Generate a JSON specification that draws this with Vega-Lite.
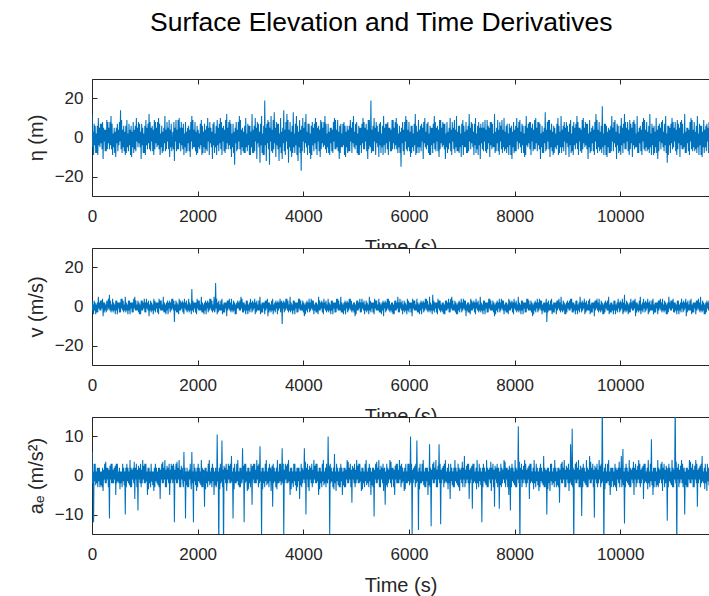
{
"$schema": "https://vega.github.io/schema/vega-lite/v6.json",
"autosize": {"type": "none"},
"padding": {"left": 92, "top": 79, "right": 617, "bottom": 517},
"title": {"text": "Surface Elevation and Time Derivatives", "anchor": "start", "frame": "group", "dx": 58, "fontSize": 26.5, "fontWeight": "normal", "color": "#000000", "font": "Liberation Sans", "offset": 42},
"spacing": 52,
"bounds": "flush",
"data": {"values": [
{"t":0,"h":12,"v":3,"a":6},{"t":30,"h":-9,"v":-4,"a":-12},{"t":60,"h":6,"v":2,"a":3},{"t":90,"h":-8,"v":-3,"a":-2},{"t":120,"h":10,"v":5,"a":2},{"t":150,"h":-5,"v":-2,"a":-3},{"t":180,"h":7,"v":3,"a":1},{"t":210,"h":-11,"v":-5,"a":-4},{"t":240,"h":4,"v":2,"a":3},{"t":270,"h":-7,"v":-3,"a":-2},
{"t":300,"h":8,"v":-2,"a":2},{"t":330,"h":-6,"v":6,"a":-11},{"t":360,"h":11,"v":-3,"a":3},{"t":390,"h":-9,"v":4,"a":-2},{"t":420,"h":5,"v":-2,"a":2},{"t":450,"h":-10,"v":3,"a":-5},{"t":480,"h":7,"v":-4,"a":3},{"t":510,"h":-4,"v":2,"a":-2},{"t":540,"h":14,"v":-3,"a":1},{"t":570,"h":-8,"v":4,"a":-3},
{"t":600,"h":6,"v":-3,"a":2},{"t":630,"h":-9,"v":5,"a":-10},{"t":660,"h":9,"v":-2,"a":3},{"t":690,"h":-7,"v":3,"a":-2},{"t":720,"h":4,"v":-4,"a":4},{"t":750,"h":-10,"v":2,"a":-3},{"t":780,"h":8,"v":-3,"a":2},{"t":810,"h":-6,"v":5,"a":-6},{"t":840,"h":10,"v":-2,"a":3},{"t":870,"h":-5,"v":3,"a":-9},
{"t":900,"h":7,"v":-4,"a":2},{"t":930,"h":-11,"v":3,"a":-3},{"t":960,"h":5,"v":-2,"a":4},{"t":990,"h":-8,"v":4,"a":-2},{"t":1020,"h":9,"v":-3,"a":3},{"t":1050,"h":-6,"v":2,"a":-5},{"t":1080,"h":12,"v":-5,"a":2},{"t":1110,"h":-7,"v":3,"a":-3},{"t":1140,"h":6,"v":-2,"a":1},{"t":1170,"h":-9,"v":4,"a":-4},
{"t":1200,"h":8,"v":-3,"a":3},{"t":1230,"h":-5,"v":2,"a":-2},{"t":1260,"h":10,"v":-4,"a":2},{"t":1290,"h":-9,"v":3,"a":-6},{"t":1320,"h":6,"v":-2,"a":3},{"t":1350,"h":-7,"v":5,"a":-2},{"t":1380,"h":11,"v":-3,"a":4},{"t":1410,"h":-6,"v":2,"a":-3},{"t":1440,"h":5,"v":-4,"a":2},{"t":1470,"h":-10,"v":3,"a":-5},
{"t":1500,"h":7,"v":-2,"a":3},{"t":1530,"h":3,"v":4,"a":-2},{"t":1560,"h":-12,"v":-8,"a":-12},{"t":1590,"h":9,"v":3,"a":3},{"t":1620,"h":-6,"v":-3,"a":-2},{"t":1650,"h":10,"v":4,"a":4},{"t":1680,"h":-7,"v":-2,"a":-3},{"t":1710,"h":5,"v":3,"a":2},{"t":1740,"h":-9,"v":-4,"a":6},{"t":1770,"h":8,"v":2,"a":-11},
{"t":1800,"h":-7,"v":-3,"a":2},{"t":1830,"h":6,"v":4,"a":-3},{"t":1860,"h":-10,"v":-2,"a":3},{"t":1890,"h":11,"v":9,"a":6},{"t":1920,"h":-5,"v":-3,"a":-12},{"t":1950,"h":8,"v":2,"a":2},{"t":1980,"h":-9,"v":-4,"a":-4},{"t":2010,"h":4,"v":3,"a":3},{"t":2040,"h":-6,"v":-2,"a":-2},{"t":2070,"h":9,"v":5,"a":4},
{"t":2100,"h":-8,"v":-3,"a":-3},{"t":2130,"h":7,"v":2,"a":-8},{"t":2160,"h":-6,"v":-4,"a":2},{"t":2190,"h":10,"v":3,"a":-3},{"t":2220,"h":-9,"v":-2,"a":4},{"t":2250,"h":5,"v":4,"a":-2},{"t":2280,"h":-11,"v":-3,"a":3},{"t":2310,"h":8,"v":5,"a":-5},{"t":2340,"h":-5,"v":12,"a":2},{"t":2370,"h":9,"v":-4,"a":10.5},
{"t":2400,"h":-7,"v":3,"a":-20},{"t":2430,"h":10,"v":-2,"a":3},{"t":2460,"h":-9,"v":4,"a":9},{"t":2490,"h":6,"v":-3,"a":-20},{"t":2520,"h":-8,"v":2,"a":2},{"t":2550,"h":12,"v":-5,"a":-4},{"t":2580,"h":-6,"v":3,"a":3},{"t":2610,"h":9,"v":-2,"a":-2},{"t":2640,"h":-10,"v":4,"a":5},{"t":2670,"h":7,"v":-3,"a":-11},
{"t":2700,"h":-14,"v":2,"a":3},{"t":2730,"h":8,"v":-4,"a":-2},{"t":2760,"h":-6,"v":3,"a":4},{"t":2790,"h":11,"v":-2,"a":-3},{"t":2820,"h":-9,"v":5,"a":2},{"t":2850,"h":5,"v":-3,"a":7},{"t":2880,"h":-8,"v":2,"a":-12},{"t":2910,"h":10,"v":-4,"a":3},{"t":2940,"h":-7,"v":3,"a":-4},{"t":2970,"h":6,"v":-2,"a":2},
{"t":3000,"h":-9,"v":4,"a":-3},{"t":3030,"h":12,"v":-3,"a":-7.5},{"t":3060,"h":-8,"v":2,"a":3},{"t":3090,"h":10,"v":-4,"a":-2},{"t":3120,"h":-11,"v":3,"a":4},{"t":3150,"h":7,"v":-2,"a":-3},{"t":3180,"h":-13,"v":5,"a":7.5},{"t":3210,"h":11,"v":-3,"a":-16},{"t":3240,"h":-9,"v":2,"a":2},{"t":3270,"h":19,"v":-4,"a":-3},
{"t":3300,"h":-12,"v":3,"a":4},{"t":3330,"h":9,"v":-5,"a":-2},{"t":3360,"h":-14,"v":2,"a":3},{"t":3390,"h":11,"v":-3,"a":-4},{"t":3420,"h":-8,"v":4,"a":-8},{"t":3450,"h":13,"v":-2,"a":2},{"t":3480,"h":-10,"v":3,"a":-3},{"t":3510,"h":7,"v":-4,"a":4},{"t":3540,"h":-12,"v":2,"a":-2},{"t":3570,"h":10,"v":-3,"a":3},
{"t":3600,"h":-11,"v":-9,"a":7},{"t":3630,"h":14,"v":3,"a":-16},{"t":3660,"h":-9,"v":-2,"a":3},{"t":3690,"h":12,"v":4,"a":-2},{"t":3720,"h":-13,"v":-3,"a":4},{"t":3750,"h":8,"v":5,"a":-5},{"t":3780,"h":-10,"v":-2,"a":2},{"t":3810,"h":13,"v":3,"a":-3},{"t":3840,"h":-8,"v":-4,"a":3},{"t":3870,"h":11,"v":2,"a":-4},
{"t":3900,"h":-12,"v":-3,"a":2},{"t":3930,"h":9,"v":4,"a":-6},{"t":3960,"h":-17,"v":-2,"a":3},{"t":3990,"h":10,"v":3,"a":-2},{"t":4020,"h":-8,"v":-5,"a":7},{"t":4050,"h":12,"v":2,"a":-10},{"t":4080,"h":-9,"v":-3,"a":3},{"t":4110,"h":7,"v":4,"a":-4},{"t":4140,"h":-11,"v":-2,"a":2},{"t":4170,"h":8,"v":3,"a":-3},
{"t":4200,"h":-7,"v":-4,"a":4},{"t":4230,"h":10,"v":2,"a":-2},{"t":4260,"h":-9,"v":-3,"a":3},{"t":4290,"h":6,"v":5,"a":-5},{"t":4320,"h":-10,"v":-2,"a":2},{"t":4350,"h":8,"v":3,"a":-3},{"t":4380,"h":-5,"v":-4,"a":4},{"t":4410,"h":11,"v":2,"a":-2},{"t":4440,"h":-8,"v":-3,"a":3},{"t":4470,"h":7,"v":4,"a":10},
{"t":4500,"h":-9,"v":-2,"a":-16},{"t":4530,"h":5,"v":3,"a":2},{"t":4560,"h":-8,"v":-4,"a":-3},{"t":4590,"h":10,"v":2,"a":5.5},{"t":4620,"h":-6,"v":-3,"a":-4},{"t":4650,"h":9,"v":4,"a":2},{"t":4680,"h":-11,"v":-2,"a":-3},{"t":4710,"h":7,"v":5,"a":3},{"t":4740,"h":-5,"v":-3,"a":-5},{"t":4770,"h":8,"v":2,"a":2},
{"t":4800,"h":-10,"v":-4,"a":-3},{"t":4830,"h":6,"v":3,"a":4},{"t":4860,"h":-7,"v":-2,"a":-2},{"t":4890,"h":9,"v":4,"a":3},{"t":4920,"h":-8,"v":-3,"a":-7},{"t":4950,"h":11,"v":2,"a":2},{"t":4980,"h":-6,"v":-5,"a":-3},{"t":5010,"h":8,"v":3,"a":4},{"t":5040,"h":-9,"v":-2,"a":-2},{"t":5070,"h":5,"v":4,"a":3},
{"t":5100,"h":-8,"v":-3,"a":-4},{"t":5130,"h":10,"v":2,"a":2},{"t":5160,"h":-6,"v":-4,"a":-3},{"t":5190,"h":7,"v":3,"a":4},{"t":5220,"h":-11,"v":-2,"a":-2},{"t":5250,"h":9,"v":5,"a":3},{"t":5280,"h":19,"v":-3,"a":-5},{"t":5310,"h":-7,"v":2,"a":2},{"t":5340,"h":10,"v":-4,"a":-10.5},{"t":5370,"h":-9,"v":3,"a":3},
{"t":5400,"h":6,"v":-2,"a":-2},{"t":5430,"h":-10,"v":4,"a":4},{"t":5460,"h":8,"v":-3,"a":-3},{"t":5490,"h":-5,"v":2,"a":2},{"t":5520,"h":11,"v":-5,"a":-4},{"t":5550,"h":-8,"v":3,"a":-7.5},{"t":5580,"h":7,"v":-2,"a":3},{"t":5610,"h":-9,"v":4,"a":-2},{"t":5640,"h":5,"v":-3,"a":4},{"t":5670,"h":-7,"v":2,"a":-3},
{"t":5700,"h":9,"v":-4,"a":2},{"t":5730,"h":-6,"v":3,"a":-5},{"t":5760,"h":10,"v":-2,"a":3},{"t":5790,"h":-8,"v":5,"a":-2},{"t":5820,"h":6,"v":-3,"a":4},{"t":5850,"h":-15,"v":2,"a":-3},{"t":5880,"h":8,"v":-4,"a":2},{"t":5910,"h":-9,"v":3,"a":-4},{"t":5940,"h":11,"v":-2,"a":3},{"t":5970,"h":-7,"v":4,"a":-2},
{"t":6000,"h":8,"v":-3,"a":3},{"t":6030,"h":-10,"v":2,"a":10},{"t":6060,"h":6,"v":-5,"a":-16},{"t":6090,"h":-7,"v":3,"a":2},{"t":6120,"h":12,"v":-2,"a":-3},{"t":6150,"h":-8,"v":4,"a":9},{"t":6180,"h":9,"v":-3,"a":-14},{"t":6210,"h":-5,"v":2,"a":3},{"t":6240,"h":7,"v":-4,"a":-2},{"t":6270,"h":-11,"v":3,"a":4},
{"t":6300,"h":10,"v":-2,"a":-3},{"t":6330,"h":-6,"v":4,"a":2},{"t":6360,"h":8,"v":-3,"a":-5},{"t":6390,"h":-9,"v":5,"a":8},{"t":6420,"h":5,"v":-2,"a":-13},{"t":6450,"h":-8,"v":6,"a":3},{"t":6480,"h":11,"v":-3,"a":-2},{"t":6510,"h":-7,"v":2,"a":4},{"t":6540,"h":6,"v":-4,"a":-3},{"t":6570,"h":-10,"v":3,"a":8},
{"t":6600,"h":9,"v":-3,"a":-12.5},{"t":6630,"h":-5,"v":2,"a":2},{"t":6660,"h":7,"v":-4,"a":-3},{"t":6690,"h":-11,"v":3,"a":4},{"t":6720,"h":8,"v":-2,"a":-2},{"t":6750,"h":-6,"v":4,"a":3},{"t":6780,"h":10,"v":-3,"a":-6},{"t":6810,"h":-9,"v":5,"a":2},{"t":6840,"h":5,"v":-2,"a":-3},{"t":6870,"h":-8,"v":3,"a":4},
{"t":6900,"h":11,"v":-4,"a":-2},{"t":6930,"h":-7,"v":2,"a":3},{"t":6960,"h":6,"v":-3,"a":-4},{"t":6990,"h":-10,"v":4,"a":2},{"t":7020,"h":9,"v":-2,"a":-3},{"t":7050,"h":-5,"v":3,"a":5},{"t":7080,"h":8,"v":-5,"a":-2},{"t":7110,"h":-8,"v":2,"a":3},{"t":7140,"h":12,"v":-3,"a":-6},{"t":7170,"h":-6,"v":4,"a":2},
{"t":7200,"h":7,"v":-2,"a":-8.5},{"t":7230,"h":-9,"v":3,"a":3},{"t":7260,"h":10,"v":-4,"a":-2},{"t":7290,"h":-6,"v":2,"a":4},{"t":7320,"h":8,"v":-3,"a":-3},{"t":7350,"h":-11,"v":5,"a":2},{"t":7380,"h":5,"v":-2,"a":-12},{"t":7410,"h":-7,"v":3,"a":3},{"t":7440,"h":9,"v":-4,"a":-2},{"t":7470,"h":-8,"v":2,"a":4},
{"t":7500,"h":6,"v":-3,"a":-3},{"t":7530,"h":-10,"v":4,"a":2},{"t":7560,"h":8,"v":-2,"a":-4},{"t":7590,"h":-5,"v":3,"a":3},{"t":7620,"h":12,"v":-5,"a":-8},{"t":7650,"h":-7,"v":2,"a":2},{"t":7680,"h":9,"v":-3,"a":-3},{"t":7710,"h":-9,"v":4,"a":-8.5},{"t":7740,"h":6,"v":-2,"a":3},{"t":7770,"h":-8,"v":3,"a":-2},
{"t":7800,"h":10,"v":-4,"a":4},{"t":7830,"h":-6,"v":2,"a":-3},{"t":7860,"h":7,"v":-3,"a":2},{"t":7890,"h":-9,"v":4,"a":-5},{"t":7920,"h":5,"v":-2,"a":-9},{"t":7950,"h":-11,"v":3,"a":3},{"t":7980,"h":8,"v":-4,"a":-2},{"t":8010,"h":-7,"v":2,"a":4},{"t":8040,"h":10,"v":-3,"a":-3},{"t":8070,"h":-6,"v":5,"a":12.6},
{"t":8100,"h":9,"v":-2,"a":-20},{"t":8130,"h":-8,"v":3,"a":3},{"t":8160,"h":6,"v":-4,"a":-2},{"t":8190,"h":-10,"v":2,"a":4},{"t":8220,"h":11,"v":-3,"a":-3},{"t":8250,"h":-5,"v":4,"a":2},{"t":8280,"h":8,"v":-2,"a":-6},{"t":8310,"h":-9,"v":3,"a":3},{"t":8340,"h":7,"v":-5,"a":-2},{"t":8370,"h":-6,"v":2,"a":4},
{"t":8400,"h":10,"v":-3,"a":-3},{"t":8430,"h":-7,"v":4,"a":2},{"t":8460,"h":8,"v":-2,"a":-4},{"t":8490,"h":-11,"v":3,"a":3},{"t":8520,"h":6,"v":-4,"a":-2},{"t":8550,"h":-8,"v":2,"a":5},{"t":8580,"h":13,"v":-3,"a":-3},{"t":8610,"h":-6,"v":-8,"a":-10},{"t":8640,"h":9,"v":3,"a":2},{"t":8670,"h":-10,"v":-2,"a":-4},
{"t":8700,"h":7,"v":4,"a":3},{"t":8730,"h":-9,"v":-3,"a":-2},{"t":8760,"h":5,"v":2,"a":4},{"t":8790,"h":-6,"v":-4,"a":-3},{"t":8820,"h":10,"v":3,"a":2},{"t":8850,"h":-8,"v":-2,"a":-7},{"t":8880,"h":11,"v":5,"a":3},{"t":8910,"h":-5,"v":-3,"a":-2},{"t":8940,"h":8,"v":2,"a":4},{"t":8970,"h":-9,"v":-4,"a":-3},
{"t":9000,"h":6,"v":3,"a":2},{"t":9030,"h":-10,"v":-2,"a":-4},{"t":9060,"h":9,"v":4,"a":8},{"t":9090,"h":-7,"v":-3,"a":12},{"t":9120,"h":8,"v":2,"a":-20},{"t":9150,"h":-6,"v":-4,"a":3},{"t":9180,"h":11,"v":3,"a":-2},{"t":9210,"h":-9,"v":-2,"a":4},{"t":9240,"h":5,"v":5,"a":-3},{"t":9270,"h":-8,"v":-3,"a":-10.4},
{"t":9300,"h":10,"v":2,"a":3},{"t":9330,"h":-5,"v":-4,"a":-2},{"t":9360,"h":7,"v":3,"a":4},{"t":9390,"h":-11,"v":-2,"a":-3},{"t":9420,"h":9,"v":4,"a":5},{"t":9450,"h":-7,"v":-3,"a":-2},{"t":9480,"h":6,"v":2,"a":3},{"t":9510,"h":-9,"v":-5,"a":-10.8},{"t":9540,"h":12,"v":3,"a":2},{"t":9570,"h":-8,"v":-2,"a":-3},
{"t":9600,"h":8,"v":4,"a":4},{"t":9630,"h":-6,"v":-3,"a":-3},{"t":9660,"h":16,"v":2,"a":20},{"t":9690,"h":-9,"v":-4,"a":-20},{"t":9720,"h":7,"v":3,"a":3},{"t":9750,"h":-10,"v":-2,"a":-2},{"t":9780,"h":5,"v":5,"a":4},{"t":9810,"h":-8,"v":-3,"a":-5},{"t":9840,"h":11,"v":2,"a":2},{"t":9870,"h":-7,"v":-4,"a":-3},
{"t":9900,"h":9,"v":3,"a":3},{"t":9930,"h":-11,"v":-2,"a":-4},{"t":9960,"h":6,"v":4,"a":2},{"t":9990,"h":-7,"v":-3,"a":-3},{"t":10020,"h":10,"v":2,"a":5},{"t":10050,"h":-8,"v":-4,"a":6.8},{"t":10080,"h":12,"v":6,"a":-12.3},{"t":10110,"h":-6,"v":-3,"a":3},{"t":10140,"h":8,"v":2,"a":-2},{"t":10170,"h":-9,"v":-3,"a":4},
{"t":10200,"h":7,"v":4,"a":-3},{"t":10230,"h":-10,"v":-2,"a":2},{"t":10260,"h":9,"v":3,"a":-5},{"t":10290,"h":-5,"v":-5,"a":3},{"t":10320,"h":11,"v":2,"a":-2},{"t":10350,"h":-8,"v":-3,"a":4},{"t":10380,"h":6,"v":5,"a":-3},{"t":10410,"h":-9,"v":-2,"a":2},{"t":10440,"h":10,"v":4,"a":-6},{"t":10470,"h":-7,"v":-3,"a":3},
{"t":10500,"h":8,"v":2,"a":-2},{"t":10530,"h":-6,"v":-4,"a":4},{"t":10560,"h":12,"v":3,"a":-3},{"t":10590,"h":-9,"v":-2,"a":9.3},{"t":10620,"h":5,"v":4,"a":-5},{"t":10650,"h":-8,"v":-3,"a":2},{"t":10680,"h":10,"v":2,"a":-3},{"t":10710,"h":-11,"v":-4,"a":4},{"t":10740,"h":7,"v":3,"a":-2},{"t":10770,"h":-6,"v":-2,"a":3},
{"t":10800,"h":9,"v":4,"a":-4},{"t":10830,"h":-7,"v":-3,"a":3},{"t":10860,"h":11,"v":2,"a":-2},{"t":10890,"h":-13,"v":-4,"a":-11.6},{"t":10920,"h":6,"v":5,"a":3},{"t":10950,"h":-8,"v":-2,"a":-2},{"t":10980,"h":10,"v":3,"a":4},{"t":11010,"h":-5,"v":-3,"a":-3},{"t":11040,"h":8,"v":2,"a":20},{"t":11070,"h":-9,"v":-4,"a":-20},
{"t":11100,"h":7,"v":3,"a":3},{"t":11130,"h":-10,"v":-2,"a":-2},{"t":11160,"h":9,"v":4,"a":4},{"t":11190,"h":-6,"v":-3,"a":-3},{"t":11220,"h":12,"v":2,"a":-10},{"t":11250,"h":-8,"v":-5,"a":2},{"t":11280,"h":5,"v":3,"a":-3},{"t":11310,"h":-9,"v":-2,"a":4},{"t":11340,"h":10,"v":4,"a":-2},{"t":11370,"h":-7,"v":-3,"a":3},
{"t":11400,"h":8,"v":2,"a":-3},{"t":11430,"h":-6,"v":-4,"a":4},{"t":11460,"h":11,"v":3,"a":-8},{"t":11490,"h":-9,"v":-2,"a":2},{"t":11520,"h":6,"v":5,"a":-3},{"t":11550,"h":-10,"v":-3,"a":5},{"t":11580,"h":9,"v":2,"a":-2},{"t":11610,"h":-5,"v":-4,"a":3},{"t":11640,"h":7,"v":3,"a":-4},{"t":11670,"h":-8,"v":-2,"a":2},
{"t":11700,"h":10,"v":4,"a":-3},{"t":11730,"h":-7,"v":-3,"a":2},
{"t":10,"h":-5,"v":-2,"a":-2},{"t":20,"h":3,"v":1,"a":1},{"t":40,"h":7,"v":3,"a":3},{"t":50,"h":-4,"v":-2,"a":-1.5},{"t":70,"h":-8,"v":-4,"a":-2.5},{"t":80,"h":2,"v":1,"a":1},{"t":100,"h":6,"v":2,"a":2},{"t":110,"h":-9,"v":-3,"a":-3},{"t":130,"h":-4,"v":-1,"a":-1.5},{"t":140,"h":5,"v":2,"a":2},
{"t":160,"h":7,"v":3,"a":1},{"t":170,"h":-3,"v":-2,"a":-2.5},{"t":190,"h":-6,"v":-1,"a":-3},{"t":200,"h":8,"v":4,"a":2},{"t":220,"h":5,"v":2,"a":1.5},{"t":230,"h":-2,"v":-3,"a":-1},{"t":250,"h":-7,"v":-2,"a":-2},{"t":260,"h":4,"v":1,"a":3.5},{"t":280,"h":9,"v":3,"a":2},{"t":290,"h":-6,"v":2,"a":-1},
{"t":310,"h":-3,"v":4,"a":-3},{"t":320,"h":5,"v":-1,"a":1.5},{"t":340,"h":8,"v":-2,"a":2.5},{"t":350,"h":-4,"v":3,"a":-1},{"t":370,"h":-6,"v":1,"a":-2},{"t":380,"h":7,"v":-2,"a":3},{"t":400,"h":2,"v":-3,"a":1.5},{"t":410,"h":-5,"v":2,"a":-2},{"t":430,"h":-8,"v":1,"a":-1},{"t":440,"h":3,"v":-4,"a":2.5},
{"t":460,"h":5,"v":-2,"a":3},{"t":470,"h":-3,"v":3,"a":-2},{"t":490,"h":-7,"v":2,"a":-1.5},{"t":500,"h":4,"v":-1,"a":1},{"t":520,"h":8,"v":-3,"a":2},{"t":530,"h":-2,"v":2,"a":-3.5},{"t":550,"h":-6,"v":4,"a":-2},{"t":560,"h":9,"v":-1,"a":1},{"t":580,"h":4,"v":-2,"a":3},{"t":590,"h":-5,"v":3,"a":-1.5},
{"t":610,"h":-7,"v":1,"a":-2.5},{"t":620,"h":3,"v":-2,"a":1},{"t":640,"h":6,"v":-3,"a":2},{"t":650,"h":-8,"v":2,"a":-3},{"t":670,"h":-5,"v":1,"a":-1.5},{"t":680,"h":2,"v":-4,"a":2},{"t":700,"h":7,"v":-2,"a":1},{"t":710,"h":-4,"v":3,"a":-2.5},{"t":730,"h":-9,"v":2,"a":-3},{"t":740,"h":6,"v":-1,"a":2},
{"t":760,"h":3,"v":-3,"a":1.5},{"t":770,"h":-5,"v":2,"a":-1},{"t":790,"h":-8,"v":4,"a":-2},{"t":800,"h":4,"v":-1,"a":3.5},{"t":820,"h":6,"v":-2,"a":2},{"t":830,"h":-7,"v":3,"a":-1},{"t":850,"h":-2,"v":1,"a":-3},{"t":860,"h":5,"v":-2,"a":1.5},{"t":880,"h":8,"v":-3,"a":2.5},{"t":890,"h":-3,"v":2,"a":-1},
{"t":910,"h":-5,"v":1,"a":-2},{"t":920,"h":3,"v":-4,"a":3},{"t":940,"h":7,"v":-2,"a":1.5},{"t":950,"h":-4,"v":3,"a":-2},{"t":970,"h":-8,"v":2,"a":-1},{"t":980,"h":2,"v":-1,"a":2.5},{"t":1000,"h":6,"v":-3,"a":3},{"t":1010,"h":-9,"v":2,"a":-2},{"t":1030,"h":-4,"v":4,"a":-1.5},{"t":1040,"h":5,"v":-1,"a":1},
{"t":1060,"h":7,"v":-2,"a":2},{"t":1070,"h":-3,"v":3,"a":-3.5},{"t":1090,"h":-6,"v":1,"a":-2},{"t":1100,"h":8,"v":-2,"a":1},{"t":1120,"h":5,"v":-3,"a":3},{"t":1130,"h":-2,"v":2,"a":-1.5},{"t":1150,"h":-7,"v":1,"a":-2.5},{"t":1160,"h":4,"v":-4,"a":1},{"t":1180,"h":9,"v":-2,"a":2},{"t":1190,"h":-6,"v":3,"a":-3},
{"t":1210,"h":-3,"v":2,"a":-1.5},{"t":1220,"h":5,"v":-1,"a":2},{"t":1240,"h":8,"v":-3,"a":1},{"t":1250,"h":-4,"v":2,"a":-2.5},{"t":1270,"h":-6,"v":4,"a":-3},{"t":1280,"h":7,"v":-1,"a":2},{"t":1300,"h":2,"v":-2,"a":1.5},{"t":1310,"h":-5,"v":3,"a":-1},{"t":1330,"h":-8,"v":1,"a":-2},{"t":1340,"h":3,"v":-2,"a":3.5},
{"t":1360,"h":5,"v":-3,"a":2},{"t":1370,"h":-3,"v":2,"a":-1},{"t":1390,"h":-7,"v":1,"a":-3},{"t":1400,"h":4,"v":-4,"a":1.5},{"t":1420,"h":8,"v":-2,"a":2.5},{"t":1430,"h":-2,"v":3,"a":-1},{"t":1450,"h":-6,"v":2,"a":-2},{"t":1460,"h":9,"v":-1,"a":3},{"t":1480,"h":4,"v":-3,"a":1.5},{"t":1490,"h":-5,"v":2,"a":-2},
{"t":1510,"h":-7,"v":4,"a":-1},{"t":1520,"h":-3,"v":-1,"a":2.5},{"t":1540,"h":-6,"v":-2,"a":3},{"t":1550,"h":8,"v":3,"a":2},{"t":1570,"h":5,"v":1,"a":1.5},{"t":1580,"h":-2,"v":-2,"a":-1},{"t":1600,"h":-7,"v":-3,"a":-2},{"t":1610,"h":4,"v":2,"a":3.5},{"t":1630,"h":9,"v":1,"a":2},{"t":1640,"h":-6,"v":-4,"a":-1},
{"t":1660,"h":-3,"v":-2,"a":-3},{"t":1670,"h":5,"v":3,"a":1.5},{"t":1690,"h":8,"v":2,"a":2.5},{"t":1700,"h":-4,"v":-1,"a":-1},{"t":1720,"h":-6,"v":-3,"a":-2},{"t":1730,"h":7,"v":2,"a":-3},{"t":1750,"h":2,"v":4,"a":-1.5},{"t":1760,"h":-5,"v":-1,"a":2},{"t":1780,"h":-8,"v":-2,"a":1},{"t":1790,"h":3,"v":3,"a":-2.5},
{"t":1810,"h":5,"v":1,"a":-3},{"t":1820,"h":-3,"v":-2,"a":1},{"t":1840,"h":-7,"v":-3,"a":1.5},{"t":1850,"h":4,"v":2,"a":-1},{"t":1870,"h":8,"v":1,"a":-2},{"t":1880,"h":-2,"v":-4,"a":-3.5},{"t":1900,"h":-6,"v":-2,"a":-2},{"t":1910,"h":9,"v":3,"a":1},{"t":1930,"h":4,"v":2,"a":3},{"t":1940,"h":-5,"v":-1,"a":-1.5},
{"t":1960,"h":-7,"v":-3,"a":-2.5},{"t":1970,"h":3,"v":2,"a":1},{"t":1990,"h":6,"v":4,"a":2},{"t":2000,"h":-8,"v":-1,"a":-3},{"t":2020,"h":-5,"v":-2,"a":-1.5},{"t":2030,"h":2,"v":3,"a":2},{"t":2050,"h":7,"v":1,"a":1},{"t":2060,"h":-4,"v":-2,"a":-2.5},{"t":2080,"h":-9,"v":-3,"a":-3},{"t":2090,"h":6,"v":2,"a":2},
{"t":2110,"h":3,"v":1,"a":1.5},{"t":2120,"h":-5,"v":-4,"a":1},{"t":2140,"h":-8,"v":-2,"a":2},{"t":2150,"h":4,"v":3,"a":-3.5},{"t":2170,"h":6,"v":2,"a":-2},{"t":2180,"h":-7,"v":-1,"a":1},{"t":2200,"h":-2,"v":-3,"a":3},{"t":2210,"h":5,"v":2,"a":-1.5},{"t":2230,"h":8,"v":4,"a":-2.5},{"t":2240,"h":-3,"v":-1,"a":1},
{"t":2260,"h":-5,"v":-2,"a":2},{"t":2270,"h":3,"v":3,"a":-3},{"t":2290,"h":7,"v":1,"a":-1.5},{"t":2300,"h":-4,"v":-2,"a":2},{"t":2320,"h":-8,"v":-3,"a":1},{"t":2330,"h":2,"v":-2,"a":-2.5},{"t":2350,"h":6,"v":-1,"a":-3},{"t":2360,"h":-9,"v":4,"a":-2},{"t":2380,"h":-4,"v":2,"a":-1.5},{"t":2390,"h":5,"v":-3,"a":1},
{"t":2410,"h":7,"v":-2,"a":2},{"t":2420,"h":-3,"v":1,"a":-3.5},{"t":2440,"h":-6,"v":3,"a":-2},{"t":2450,"h":8,"v":-2,"a":-1},{"t":2470,"h":5,"v":-4,"a":-3},{"t":2480,"h":-2,"v":1,"a":1.5},{"t":2500,"h":-7,"v":2,"a":2.5},{"t":2510,"h":4,"v":-3,"a":-1},{"t":2530,"h":9,"v":-1,"a":-2},{"t":2540,"h":-6,"v":2,"a":3},
{"t":2560,"h":-3,"v":3,"a":1.5},{"t":2570,"h":5,"v":-2,"a":-2},{"t":2590,"h":8,"v":-1,"a":-1},{"t":2600,"h":-4,"v":4,"a":2.5},{"t":2620,"h":-6,"v":2,"a":3},{"t":2630,"h":7,"v":-3,"a":-2},{"t":2650,"h":2,"v":-2,"a":-1.5},{"t":2660,"h":-5,"v":1,"a":1},{"t":2680,"h":-8,"v":3,"a":2},{"t":2690,"h":3,"v":-2,"a":-3.5},
{"t":2710,"h":5,"v":-4,"a":-2},{"t":2720,"h":-3,"v":1,"a":1},{"t":2740,"h":-7,"v":2,"a":3},{"t":2750,"h":4,"v":-1,"a":-1.5},{"t":2770,"h":8,"v":-1,"a":-2.5},{"t":2780,"h":-2,"v":2,"a":1},{"t":2800,"h":-6,"v":3,"a":2},{"t":2810,"h":9,"v":-2,"a":-3},{"t":2830,"h":4,"v":-1,"a":-1.5},{"t":2840,"h":-5,"v":4,"a":-2},
{"t":2860,"h":-7,"v":2,"a":-1},{"t":2870,"h":3,"v":-3,"a":2.5},{"t":2890,"h":6,"v":-2,"a":3},{"t":2900,"h":-8,"v":1,"a":-2},{"t":2920,"h":-5,"v":3,"a":-1.5},{"t":2930,"h":2,"v":-2,"a":1},{"t":2950,"h":7,"v":-4,"a":2},{"t":2960,"h":-4,"v":1,"a":-3.5},{"t":2980,"h":-9,"v":2,"a":-2},{"t":2990,"h":6,"v":-3,"a":1},
{"t":3010,"h":3,"v":-1,"a":3},{"t":3020,"h":-5,"v":2,"a":1.5},{"t":3040,"h":-8,"v":3,"a":2.5},{"t":3050,"h":4,"v":-2,"a":-1},{"t":3070,"h":6,"v":-1,"a":-2},{"t":3080,"h":-7,"v":4,"a":3},{"t":3100,"h":-2,"v":2,"a":1.5},{"t":3110,"h":5,"v":-3,"a":-2},{"t":3130,"h":8,"v":-2,"a":-1},{"t":3140,"h":-3,"v":1,"a":2.5},
{"t":3160,"h":-5,"v":3,"a":3},{"t":3170,"h":3,"v":-2,"a":-2},{"t":3190,"h":7,"v":-4,"a":-1.5},{"t":3200,"h":-4,"v":1,"a":1},{"t":3220,"h":-8,"v":2,"a":2},{"t":3230,"h":2,"v":-3,"a":-3.5},{"t":3250,"h":6,"v":-1,"a":-2},{"t":3260,"h":-9,"v":2,"a":1},{"t":3280,"h":-4,"v":3,"a":3},{"t":3290,"h":5,"v":-2,"a":-1.5},
{"t":3310,"h":7,"v":-1,"a":-2.5},{"t":3320,"h":-3,"v":4,"a":1},{"t":3340,"h":-6,"v":2,"a":2},{"t":3350,"h":8,"v":-3,"a":-3},{"t":3370,"h":5,"v":-2,"a":-1.5},{"t":3380,"h":-2,"v":1,"a":2},{"t":3400,"h":-7,"v":3,"a":1},{"t":3410,"h":4,"v":-2,"a":2.5},{"t":3430,"h":9,"v":-4,"a":3},{"t":3440,"h":-6,"v":1,"a":-2},
{"t":3460,"h":-3,"v":2,"a":-1.5},{"t":3470,"h":5,"v":-3,"a":1},{"t":3490,"h":8,"v":-1,"a":2},{"t":3500,"h":-4,"v":2,"a":-3.5},{"t":3520,"h":-6,"v":3,"a":-2},{"t":3530,"h":7,"v":-2,"a":1},{"t":3550,"h":2,"v":-1,"a":3},{"t":3560,"h":-5,"v":4,"a":-1.5},{"t":3580,"h":-8,"v":2,"a":-2.5},{"t":3590,"h":3,"v":3,"a":-1},
{"t":3610,"h":5,"v":2,"a":-2},{"t":3620,"h":-3,"v":-1,"a":3},{"t":3640,"h":-7,"v":-3,"a":1.5},{"t":3650,"h":4,"v":2,"a":-2},{"t":3670,"h":8,"v":4,"a":-1},{"t":3680,"h":-2,"v":-1,"a":2.5},{"t":3700,"h":-6,"v":-2,"a":3},{"t":3710,"h":9,"v":3,"a":-2},{"t":3730,"h":4,"v":1,"a":-1.5},{"t":3740,"h":-5,"v":-2,"a":1},
{"t":3760,"h":-7,"v":-3,"a":2},{"t":3770,"h":3,"v":2,"a":-3.5},{"t":3790,"h":6,"v":1,"a":-2},{"t":3800,"h":-8,"v":-4,"a":1},{"t":3820,"h":-5,"v":-2,"a":3},{"t":3830,"h":2,"v":3,"a":-1.5},{"t":3850,"h":7,"v":2,"a":-2.5},{"t":3860,"h":-4,"v":-1,"a":1},{"t":3880,"h":-9,"v":-3,"a":2},{"t":3890,"h":6,"v":2,"a":-3},
{"t":3910,"h":3,"v":4,"a":-1.5},{"t":3920,"h":-5,"v":-1,"a":2},{"t":3940,"h":-8,"v":-2,"a":1},{"t":3950,"h":4,"v":3,"a":-2.5},{"t":3970,"h":6,"v":1,"a":-3},{"t":3980,"h":-7,"v":-2,"a":2},{"t":4000,"h":-2,"v":-3,"a":1.5},{"t":4010,"h":5,"v":2,"a":-1},{"t":4030,"h":8,"v":1,"a":-2},{"t":4040,"h":-3,"v":-4,"a":3.5},
{"t":4060,"h":-5,"v":-2,"a":2},{"t":4070,"h":3,"v":3,"a":-1},{"t":4090,"h":7,"v":2,"a":-3},{"t":4100,"h":-4,"v":-1,"a":1.5},{"t":4120,"h":-8,"v":-3,"a":2.5},{"t":4130,"h":2,"v":2,"a":-1},{"t":4150,"h":6,"v":4,"a":-2},{"t":4160,"h":-9,"v":-1,"a":3},{"t":4180,"h":-4,"v":-2,"a":1.5},{"t":4190,"h":5,"v":3,"a":-2},
{"t":4210,"h":7,"v":1,"a":-1},{"t":4220,"h":-3,"v":-2,"a":2.5},{"t":4240,"h":-6,"v":-3,"a":3},{"t":4250,"h":8,"v":2,"a":-2},{"t":4270,"h":5,"v":1,"a":-1.5},{"t":4280,"h":-2,"v":-4,"a":1},{"t":4300,"h":-7,"v":-2,"a":2},{"t":4310,"h":4,"v":3,"a":-3.5},{"t":4330,"h":9,"v":2,"a":-2},{"t":4340,"h":-6,"v":-1,"a":1},
{"t":4360,"h":-3,"v":-3,"a":3},{"t":4370,"h":5,"v":2,"a":-1.5},{"t":4390,"h":8,"v":4,"a":-2.5},{"t":4400,"h":-4,"v":-1,"a":1},{"t":4420,"h":-6,"v":-2,"a":2},{"t":4430,"h":7,"v":3,"a":-3},{"t":4450,"h":2,"v":1,"a":-1.5},{"t":4460,"h":-5,"v":-2,"a":-2},{"t":4480,"h":-8,"v":-3,"a":-1},{"t":4490,"h":3,"v":2,"a":2.5},
{"t":4510,"h":5,"v":1,"a":3},{"t":4520,"h":-3,"v":-4,"a":-2},{"t":4540,"h":-7,"v":-2,"a":-1.5},{"t":4550,"h":4,"v":3,"a":1},{"t":4570,"h":8,"v":2,"a":2},{"t":4580,"h":-2,"v":-1,"a":-3.5},{"t":4600,"h":-6,"v":-3,"a":-2},{"t":4610,"h":9,"v":2,"a":1},{"t":4630,"h":4,"v":4,"a":3},{"t":4640,"h":-5,"v":-1,"a":-1.5},
{"t":4660,"h":-7,"v":-2,"a":-2.5},{"t":4670,"h":3,"v":3,"a":1},{"t":4690,"h":6,"v":1,"a":2},{"t":4700,"h":-8,"v":-2,"a":-3},{"t":4720,"h":-5,"v":-3,"a":-1.5},{"t":4730,"h":2,"v":2,"a":2},{"t":4750,"h":7,"v":1,"a":1},{"t":4760,"h":-4,"v":-4,"a":-2.5},{"t":4780,"h":-9,"v":-2,"a":-3},{"t":4790,"h":6,"v":3,"a":2},
{"t":4810,"h":3,"v":2,"a":1.5},{"t":4820,"h":-5,"v":-1,"a":-1},{"t":4840,"h":-8,"v":-3,"a":-2},{"t":4850,"h":4,"v":2,"a":3.5},{"t":4870,"h":6,"v":4,"a":2},{"t":4880,"h":-7,"v":-1,"a":-1},{"t":4900,"h":-2,"v":-2,"a":-3},{"t":4910,"h":5,"v":3,"a":1.5},{"t":4930,"h":8,"v":1,"a":2.5},{"t":4940,"h":-3,"v":-2,"a":-1},
{"t":4960,"h":-5,"v":-3,"a":-2},{"t":4970,"h":3,"v":2,"a":3},{"t":4990,"h":7,"v":1,"a":1.5},{"t":5000,"h":-4,"v":-4,"a":-2},{"t":5020,"h":-8,"v":-2,"a":-1},{"t":5030,"h":2,"v":3,"a":2.5},{"t":5050,"h":6,"v":2,"a":3},{"t":5060,"h":-9,"v":-1,"a":-2},{"t":5080,"h":-4,"v":-3,"a":-1.5},{"t":5090,"h":5,"v":2,"a":1},
{"t":5110,"h":7,"v":4,"a":2},{"t":5120,"h":-3,"v":-1,"a":-3.5},{"t":5140,"h":-6,"v":-2,"a":-2},{"t":5150,"h":8,"v":3,"a":1},{"t":5170,"h":5,"v":1,"a":3},{"t":5180,"h":-2,"v":-2,"a":-1.5},{"t":5200,"h":-7,"v":-3,"a":-2.5},{"t":5210,"h":4,"v":2,"a":1},{"t":5230,"h":9,"v":1,"a":2},{"t":5240,"h":-6,"v":-4,"a":-3},
{"t":5260,"h":-3,"v":-2,"a":-1.5},{"t":5270,"h":-5,"v":3,"a":2},{"t":5290,"h":-8,"v":2,"a":1},{"t":5300,"h":4,"v":-1,"a":-2.5},{"t":5320,"h":6,"v":-3,"a":-3},{"t":5330,"h":-7,"v":2,"a":2},{"t":5350,"h":-2,"v":4,"a":1.5},{"t":5360,"h":5,"v":-1,"a":-1},{"t":5380,"h":8,"v":-2,"a":-2},{"t":5390,"h":-3,"v":3,"a":3.5},
{"t":5410,"h":-5,"v":1,"a":2},{"t":5420,"h":3,"v":-2,"a":-1},{"t":5440,"h":7,"v":-3,"a":-3},{"t":5450,"h":-4,"v":2,"a":1.5},{"t":5470,"h":-8,"v":1,"a":2.5},{"t":5480,"h":2,"v":-4,"a":-1},{"t":5500,"h":6,"v":-2,"a":-2},{"t":5510,"h":-9,"v":3,"a":3},{"t":5530,"h":-4,"v":2,"a":1.5},{"t":5540,"h":5,"v":-1,"a":2},
{"t":5560,"h":7,"v":-3,"a":1},{"t":5570,"h":-3,"v":2,"a":-2.5},{"t":5590,"h":-6,"v":4,"a":-3},{"t":5600,"h":8,"v":-1,"a":2},{"t":5620,"h":5,"v":-2,"a":1.5},{"t":5630,"h":-2,"v":3,"a":-1},{"t":5650,"h":-7,"v":1,"a":-2},{"t":5660,"h":4,"v":-2,"a":3.5},{"t":5680,"h":9,"v":-3,"a":2},{"t":5690,"h":-6,"v":2,"a":-1},
{"t":5710,"h":-3,"v":1,"a":-3},{"t":5720,"h":5,"v":-4,"a":1.5},{"t":5740,"h":8,"v":-2,"a":2.5},{"t":5750,"h":-4,"v":3,"a":-1},{"t":5770,"h":-6,"v":2,"a":-2},{"t":5780,"h":7,"v":-1,"a":3},{"t":5800,"h":2,"v":-3,"a":1.5},{"t":5810,"h":-5,"v":2,"a":-2},{"t":5830,"h":-8,"v":4,"a":-1},{"t":5840,"h":3,"v":-1,"a":2.5},
{"t":5860,"h":5,"v":-2,"a":3},{"t":5870,"h":-3,"v":3,"a":-2},{"t":5890,"h":-7,"v":1,"a":-1.5},{"t":5900,"h":4,"v":-2,"a":1},{"t":5920,"h":8,"v":-3,"a":2},{"t":5930,"h":-2,"v":2,"a":-3.5},{"t":5950,"h":-6,"v":1,"a":-2},{"t":5960,"h":9,"v":-4,"a":1},{"t":5980,"h":4,"v":-2,"a":3},{"t":5990,"h":-5,"v":3,"a":-1.5},
{"t":6010,"h":-7,"v":2,"a":-2.5},{"t":6020,"h":3,"v":-1,"a":-1},{"t":6040,"h":6,"v":-3,"a":-2},{"t":6050,"h":-8,"v":2,"a":3},{"t":6070,"h":-5,"v":4,"a":1.5},{"t":6080,"h":2,"v":-1,"a":-2},{"t":6100,"h":7,"v":-2,"a":-1},{"t":6110,"h":-4,"v":3,"a":2.5},{"t":6130,"h":-9,"v":1,"a":3},{"t":6140,"h":6,"v":-2,"a":-2},
{"t":6160,"h":3,"v":-3,"a":-1.5},{"t":6170,"h":-5,"v":2,"a":1},{"t":6190,"h":-8,"v":1,"a":2},{"t":6200,"h":4,"v":-4,"a":-3.5},{"t":6220,"h":6,"v":-2,"a":-2},{"t":6230,"h":-7,"v":3,"a":1},{"t":6250,"h":-2,"v":2,"a":3},{"t":6260,"h":5,"v":-1,"a":-1.5},{"t":6280,"h":8,"v":-3,"a":-2.5},{"t":6290,"h":-3,"v":2,"a":1},
{"t":6310,"h":-5,"v":4,"a":2},{"t":6320,"h":3,"v":-1,"a":-3},{"t":6340,"h":7,"v":-2,"a":-1.5},{"t":6350,"h":-4,"v":3,"a":2},{"t":6370,"h":-8,"v":1,"a":1},{"t":6380,"h":2,"v":-2,"a":-2.5},{"t":6400,"h":6,"v":-3,"a":-3},{"t":6410,"h":-9,"v":2,"a":2},{"t":6430,"h":-4,"v":1,"a":1.5},{"t":6440,"h":5,"v":-4,"a":-1},
{"t":6460,"h":7,"v":-2,"a":-2},{"t":6470,"h":-3,"v":3,"a":3.5},{"t":6490,"h":-6,"v":2,"a":2},{"t":6500,"h":8,"v":-1,"a":-1},{"t":6520,"h":5,"v":-3,"a":-3},{"t":6530,"h":-2,"v":2,"a":1.5},{"t":6550,"h":-7,"v":4,"a":2.5},{"t":6560,"h":4,"v":-1,"a":-1},{"t":6580,"h":9,"v":-2,"a":-2},{"t":6590,"h":-6,"v":3,"a":3},
{"t":6610,"h":-3,"v":1,"a":1.5},{"t":6620,"h":5,"v":-2,"a":-2},{"t":6640,"h":8,"v":-3,"a":-1},{"t":6650,"h":-4,"v":2,"a":2.5},{"t":6670,"h":-6,"v":1,"a":3},{"t":6680,"h":7,"v":-4,"a":-2},{"t":6700,"h":2,"v":-2,"a":-1.5},{"t":6710,"h":-5,"v":3,"a":1},{"t":6730,"h":-8,"v":2,"a":2},{"t":6740,"h":3,"v":-1,"a":-3.5},
{"t":6760,"h":5,"v":-3,"a":-2},{"t":6770,"h":-3,"v":2,"a":1},{"t":6790,"h":-7,"v":4,"a":3},{"t":6800,"h":4,"v":-1,"a":-1.5},{"t":6820,"h":8,"v":-2,"a":-2.5},{"t":6830,"h":-2,"v":3,"a":1},{"t":6850,"h":-6,"v":1,"a":2},{"t":6860,"h":9,"v":-2,"a":-3},{"t":6880,"h":4,"v":-3,"a":-1.5},{"t":6890,"h":-5,"v":2,"a":2},
{"t":6910,"h":-7,"v":1,"a":1},{"t":6920,"h":3,"v":-4,"a":-2.5},{"t":6940,"h":6,"v":-2,"a":-3},{"t":6950,"h":-8,"v":3,"a":2},{"t":6970,"h":-5,"v":2,"a":1.5},{"t":6980,"h":2,"v":-1,"a":-1},{"t":7000,"h":7,"v":-3,"a":-2},{"t":7010,"h":-4,"v":2,"a":3.5},{"t":7030,"h":-9,"v":4,"a":2},{"t":7040,"h":6,"v":-1,"a":-1},
{"t":7060,"h":3,"v":-2,"a":-3},{"t":7070,"h":-5,"v":3,"a":1.5},{"t":7090,"h":-8,"v":1,"a":2.5},{"t":7100,"h":4,"v":-2,"a":-1},{"t":7120,"h":6,"v":-3,"a":-2},{"t":7130,"h":-7,"v":2,"a":3},{"t":7150,"h":-2,"v":1,"a":1.5},{"t":7160,"h":5,"v":-4,"a":-2},{"t":7180,"h":8,"v":-2,"a":-1},{"t":7190,"h":-3,"v":3,"a":2.5},
{"t":7210,"h":-5,"v":2,"a":3},{"t":7220,"h":3,"v":-1,"a":-2},{"t":7240,"h":7,"v":-3,"a":-1.5},{"t":7250,"h":-4,"v":2,"a":1},{"t":7270,"h":-8,"v":4,"a":2},{"t":7280,"h":2,"v":-1,"a":-3.5},{"t":7300,"h":6,"v":-2,"a":-2},{"t":7310,"h":-9,"v":3,"a":1},{"t":7330,"h":-4,"v":1,"a":3},{"t":7340,"h":5,"v":-2,"a":-1.5},
{"t":7360,"h":7,"v":-3,"a":-2.5},{"t":7370,"h":-3,"v":2,"a":1},{"t":7390,"h":-6,"v":1,"a":2},{"t":7400,"h":8,"v":-4,"a":-3},{"t":7420,"h":5,"v":-2,"a":-1.5},{"t":7430,"h":-2,"v":3,"a":2},{"t":7450,"h":-7,"v":2,"a":1},{"t":7460,"h":4,"v":-1,"a":-2.5},{"t":7480,"h":9,"v":-3,"a":-3},{"t":7490,"h":-6,"v":2,"a":2},
{"t":7510,"h":-3,"v":4,"a":1.5},{"t":7520,"h":5,"v":-1,"a":-1},{"t":7540,"h":8,"v":-2,"a":-2},{"t":7550,"h":-4,"v":3,"a":3.5},{"t":7570,"h":-6,"v":1,"a":2},{"t":7580,"h":7,"v":-2,"a":-1},{"t":7600,"h":2,"v":-3,"a":-3},{"t":7610,"h":-5,"v":2,"a":1.5},{"t":7630,"h":-8,"v":1,"a":2.5},{"t":7640,"h":3,"v":-4,"a":-1},
{"t":7660,"h":5,"v":-2,"a":-2},{"t":7670,"h":-3,"v":3,"a":3},{"t":7690,"h":-7,"v":2,"a":1.5},{"t":7700,"h":4,"v":-1,"a":2},{"t":7720,"h":8,"v":-3,"a":1},{"t":7730,"h":-2,"v":2,"a":-2.5},{"t":7750,"h":-6,"v":4,"a":-3},{"t":7760,"h":9,"v":-1,"a":2},{"t":7780,"h":4,"v":-2,"a":1.5},{"t":7790,"h":-5,"v":3,"a":-1},
{"t":7810,"h":-7,"v":1,"a":-2},{"t":7820,"h":3,"v":-2,"a":3.5},{"t":7840,"h":6,"v":-3,"a":2},{"t":7850,"h":-8,"v":2,"a":-1},{"t":7870,"h":-5,"v":1,"a":-3},{"t":7880,"h":2,"v":-4,"a":1.5},{"t":7900,"h":7,"v":-2,"a":2.5},{"t":7910,"h":-4,"v":3,"a":1},{"t":7930,"h":-9,"v":2,"a":2},{"t":7940,"h":6,"v":-1,"a":-3},
{"t":7960,"h":3,"v":-3,"a":-1.5},{"t":7970,"h":-5,"v":2,"a":2},{"t":7990,"h":-8,"v":4,"a":1},{"t":8000,"h":4,"v":-1,"a":-2.5},{"t":8020,"h":6,"v":-2,"a":-3},{"t":8030,"h":-7,"v":3,"a":2},{"t":8050,"h":-2,"v":1,"a":1.5},{"t":8060,"h":5,"v":-2,"a":-1},{"t":8080,"h":8,"v":-3,"a":-2},{"t":8090,"h":-3,"v":2,"a":3.5},
{"t":8110,"h":-5,"v":1,"a":2},{"t":8120,"h":3,"v":-4,"a":-1},{"t":8140,"h":7,"v":-2,"a":-3},{"t":8150,"h":-4,"v":3,"a":1.5},{"t":8170,"h":-8,"v":2,"a":2.5},{"t":8180,"h":2,"v":-1,"a":-1},{"t":8200,"h":6,"v":-3,"a":-2},{"t":8210,"h":-9,"v":2,"a":3},{"t":8230,"h":-4,"v":4,"a":1.5},{"t":8240,"h":5,"v":-1,"a":-2},
{"t":8260,"h":7,"v":-2,"a":-1},{"t":8270,"h":-3,"v":3,"a":2.5},{"t":8290,"h":-6,"v":1,"a":3},{"t":8300,"h":8,"v":-2,"a":-2},{"t":8320,"h":5,"v":-3,"a":-1.5},{"t":8330,"h":-2,"v":2,"a":1},{"t":8350,"h":-7,"v":1,"a":2},{"t":8360,"h":4,"v":-4,"a":-3.5},{"t":8380,"h":9,"v":-2,"a":-2},{"t":8390,"h":-6,"v":3,"a":1},
{"t":8410,"h":-3,"v":2,"a":3},{"t":8420,"h":5,"v":-1,"a":-1.5},{"t":8440,"h":8,"v":-3,"a":-2.5},{"t":8450,"h":-4,"v":2,"a":1},{"t":8470,"h":-6,"v":4,"a":2},{"t":8480,"h":7,"v":-1,"a":-3},{"t":8500,"h":2,"v":-2,"a":-1.5},{"t":8510,"h":-5,"v":3,"a":2},{"t":8530,"h":-8,"v":1,"a":1},{"t":8540,"h":3,"v":-2,"a":-2.5},
{"t":8560,"h":5,"v":-3,"a":-3},{"t":8570,"h":-3,"v":2,"a":2},{"t":8590,"h":-7,"v":1,"a":1.5},{"t":8600,"h":4,"v":4,"a":1},{"t":8620,"h":8,"v":2,"a":2},{"t":8630,"h":-2,"v":-3,"a":-3.5},{"t":8650,"h":-6,"v":-2,"a":-2},{"t":8660,"h":9,"v":1,"a":1},{"t":8680,"h":4,"v":3,"a":3},{"t":8690,"h":-5,"v":-2,"a":-1.5},
{"t":8710,"h":-7,"v":-4,"a":-2.5},{"t":8720,"h":3,"v":1,"a":1},{"t":8740,"h":6,"v":2,"a":2},{"t":8750,"h":-8,"v":-3,"a":-3},{"t":8770,"h":-5,"v":-1,"a":-1.5},{"t":8780,"h":2,"v":2,"a":2},{"t":8800,"h":7,"v":3,"a":1},{"t":8810,"h":-4,"v":-2,"a":-2.5},{"t":8830,"h":-9,"v":-1,"a":-3},{"t":8840,"h":6,"v":4,"a":2},
{"t":8860,"h":3,"v":2,"a":1.5},{"t":8870,"h":-5,"v":-3,"a":-1},{"t":8890,"h":-8,"v":-2,"a":-2},{"t":8900,"h":4,"v":1,"a":3.5},{"t":8920,"h":6,"v":3,"a":2},{"t":8930,"h":-7,"v":-2,"a":-1},{"t":8950,"h":-2,"v":-4,"a":-3},{"t":8960,"h":5,"v":1,"a":1.5},{"t":8980,"h":8,"v":2,"a":2.5},{"t":8990,"h":-3,"v":-3,"a":-1},
{"t":9010,"h":-5,"v":-1,"a":-2},{"t":9020,"h":3,"v":2,"a":3},{"t":9040,"h":7,"v":3,"a":1.5},{"t":9050,"h":-4,"v":-2,"a":-2},{"t":9070,"h":-8,"v":-1,"a":-1},{"t":9080,"h":2,"v":4,"a":-2.5},{"t":9100,"h":6,"v":2,"a":-3},{"t":9110,"h":-9,"v":-3,"a":2},{"t":9130,"h":-4,"v":-2,"a":1.5},{"t":9140,"h":5,"v":1,"a":-1},
{"t":9160,"h":7,"v":3,"a":-2},{"t":9170,"h":-3,"v":-2,"a":3.5},{"t":9190,"h":-6,"v":-4,"a":2},{"t":9200,"h":8,"v":1,"a":-1},{"t":9220,"h":5,"v":2,"a":-3},{"t":9230,"h":-2,"v":-3,"a":1.5},{"t":9250,"h":-7,"v":-1,"a":2.5},{"t":9260,"h":4,"v":2,"a":1},{"t":9280,"h":9,"v":3,"a":2},{"t":9290,"h":-6,"v":-2,"a":-3},
{"t":9310,"h":-3,"v":-1,"a":-1.5},{"t":9320,"h":5,"v":4,"a":2},{"t":9340,"h":8,"v":2,"a":1},{"t":9350,"h":-4,"v":-3,"a":-2.5},{"t":9370,"h":-6,"v":-2,"a":-3},{"t":9380,"h":7,"v":1,"a":2},{"t":9400,"h":2,"v":3,"a":1.5},{"t":9410,"h":-5,"v":-2,"a":-1},{"t":9430,"h":-8,"v":-4,"a":-2},{"t":9440,"h":3,"v":1,"a":3.5},
{"t":9460,"h":5,"v":2,"a":2},{"t":9470,"h":-3,"v":-3,"a":-1},{"t":9490,"h":-7,"v":-1,"a":-3},{"t":9500,"h":4,"v":2,"a":1.5},{"t":9520,"h":8,"v":3,"a":2.5},{"t":9530,"h":-2,"v":-2,"a":-1},{"t":9550,"h":-6,"v":-1,"a":-2},{"t":9560,"h":9,"v":4,"a":3},{"t":9580,"h":4,"v":2,"a":1.5},{"t":9590,"h":-5,"v":-3,"a":-2},
{"t":9610,"h":-7,"v":-2,"a":-1},{"t":9620,"h":3,"v":1,"a":2.5},{"t":9640,"h":6,"v":3,"a":3},{"t":9650,"h":-8,"v":-2,"a":-2},{"t":9670,"h":-5,"v":-4,"a":-1.5},{"t":9680,"h":2,"v":1,"a":1},{"t":9700,"h":7,"v":2,"a":2},{"t":9710,"h":-4,"v":-3,"a":-3.5},{"t":9730,"h":-9,"v":-1,"a":-2},{"t":9740,"h":6,"v":2,"a":1},
{"t":9760,"h":3,"v":3,"a":3},{"t":9770,"h":-5,"v":-2,"a":-1.5},{"t":9790,"h":-8,"v":-4,"a":-2.5},{"t":9800,"h":4,"v":1,"a":1},{"t":9820,"h":6,"v":2,"a":2},{"t":9830,"h":-7,"v":-3,"a":-3},{"t":9850,"h":-2,"v":-2,"a":-1.5},{"t":9860,"h":5,"v":1,"a":2},{"t":9880,"h":8,"v":3,"a":1},{"t":9890,"h":-3,"v":-2,"a":-2.5},
{"t":9910,"h":-5,"v":-4,"a":-3},{"t":9920,"h":3,"v":1,"a":2},{"t":9940,"h":7,"v":2,"a":1.5},{"t":9950,"h":-4,"v":-3,"a":-1},{"t":9970,"h":-8,"v":-1,"a":-2},{"t":9980,"h":2,"v":2,"a":3.5},{"t":10000,"h":6,"v":3,"a":2},{"t":10010,"h":-9,"v":-2,"a":-1},{"t":10030,"h":-4,"v":-1,"a":-3},{"t":10040,"h":5,"v":4,"a":-1.5},
{"t":10060,"h":7,"v":2,"a":-2.5},{"t":10070,"h":-3,"v":-3,"a":1},{"t":10090,"h":-6,"v":-2,"a":2},{"t":10100,"h":8,"v":1,"a":-3},{"t":10120,"h":5,"v":3,"a":-1.5},{"t":10130,"h":-2,"v":-2,"a":2},{"t":10150,"h":-7,"v":-4,"a":1},{"t":10160,"h":4,"v":1,"a":-2.5},{"t":10180,"h":9,"v":2,"a":-3},{"t":10190,"h":-6,"v":-3,"a":2},
{"t":10210,"h":-3,"v":-1,"a":1.5},{"t":10220,"h":5,"v":2,"a":-1},{"t":10240,"h":8,"v":3,"a":-2},{"t":10250,"h":-4,"v":-2,"a":3.5},{"t":10270,"h":-6,"v":-1,"a":2},{"t":10280,"h":7,"v":4,"a":-1},{"t":10300,"h":2,"v":2,"a":-3},{"t":10310,"h":-5,"v":-3,"a":1.5},{"t":10330,"h":-8,"v":-2,"a":2.5},{"t":10340,"h":3,"v":1,"a":-1},
{"t":10360,"h":5,"v":3,"a":-2},{"t":10370,"h":-3,"v":-2,"a":3},{"t":10390,"h":-7,"v":-4,"a":1.5},{"t":10400,"h":4,"v":1,"a":-2},{"t":10420,"h":8,"v":2,"a":-1},{"t":10430,"h":-2,"v":-3,"a":2.5},{"t":10450,"h":-6,"v":-1,"a":3},{"t":10460,"h":9,"v":2,"a":-2},{"t":10480,"h":4,"v":3,"a":-1.5},{"t":10490,"h":-5,"v":-2,"a":1},
{"t":10510,"h":-7,"v":-1,"a":2},{"t":10520,"h":3,"v":4,"a":-3.5},{"t":10540,"h":6,"v":2,"a":-2},{"t":10550,"h":-8,"v":-3,"a":1},{"t":10570,"h":-5,"v":-2,"a":3},{"t":10580,"h":2,"v":1,"a":-1.5},{"t":10600,"h":7,"v":3,"a":-2.5},{"t":10610,"h":-4,"v":-2,"a":1},{"t":10630,"h":-9,"v":-4,"a":2},{"t":10640,"h":6,"v":1,"a":-3},
{"t":10660,"h":3,"v":2,"a":-1.5},{"t":10670,"h":-5,"v":-3,"a":2},{"t":10690,"h":-8,"v":-1,"a":1},{"t":10700,"h":4,"v":2,"a":-2.5},{"t":10720,"h":6,"v":3,"a":-3},{"t":10730,"h":-7,"v":-2,"a":2},{"t":10750,"h":-2,"v":-1,"a":1.5},{"t":10760,"h":5,"v":4,"a":-1},{"t":10780,"h":8,"v":2,"a":-2},{"t":10790,"h":-3,"v":-3,"a":3.5},
{"t":10810,"h":-5,"v":-2,"a":2},{"t":10820,"h":3,"v":1,"a":-1},{"t":10840,"h":7,"v":3,"a":-3},{"t":10850,"h":-4,"v":-2,"a":1.5},{"t":10870,"h":-8,"v":-4,"a":2.5},{"t":10880,"h":2,"v":1,"a":1},{"t":10900,"h":6,"v":2,"a":2},{"t":10910,"h":-9,"v":-3,"a":-3},{"t":10930,"h":-4,"v":-1,"a":-1.5},{"t":10940,"h":5,"v":2,"a":2},
{"t":10960,"h":7,"v":3,"a":1},{"t":10970,"h":-3,"v":-2,"a":-2.5},{"t":10990,"h":-6,"v":-1,"a":-3},{"t":11000,"h":8,"v":4,"a":2},{"t":11020,"h":5,"v":2,"a":1.5},{"t":11030,"h":-2,"v":-3,"a":-1},{"t":11050,"h":-7,"v":-2,"a":-2},{"t":11060,"h":4,"v":1,"a":3.5},{"t":11080,"h":9,"v":3,"a":2},{"t":11090,"h":-6,"v":-2,"a":-1},
{"t":11110,"h":-3,"v":-4,"a":-3},{"t":11120,"h":5,"v":1,"a":1.5},{"t":11140,"h":8,"v":2,"a":2.5},{"t":11150,"h":-4,"v":-3,"a":-1},{"t":11170,"h":-6,"v":-1,"a":-2},{"t":11180,"h":7,"v":2,"a":3},{"t":11200,"h":2,"v":3,"a":1.5},{"t":11210,"h":-5,"v":-2,"a":2},{"t":11230,"h":-8,"v":-1,"a":1},{"t":11240,"h":3,"v":4,"a":-2.5},
{"t":11260,"h":5,"v":2,"a":-3},{"t":11270,"h":-3,"v":-3,"a":2},{"t":11290,"h":-7,"v":-2,"a":1.5},{"t":11300,"h":4,"v":1,"a":-1},{"t":11320,"h":8,"v":3,"a":-2},{"t":11330,"h":-2,"v":-2,"a":3.5},{"t":11350,"h":-6,"v":-4,"a":2},{"t":11360,"h":9,"v":1,"a":-1},{"t":11380,"h":4,"v":2,"a":-3},{"t":11390,"h":-5,"v":-3,"a":1.5},
{"t":11410,"h":-7,"v":-1,"a":2.5},{"t":11420,"h":3,"v":2,"a":-1},{"t":11440,"h":6,"v":3,"a":-2},{"t":11450,"h":-8,"v":-2,"a":3},{"t":11470,"h":-5,"v":-1,"a":1.5},{"t":11480,"h":2,"v":4,"a":-2},{"t":11500,"h":7,"v":2,"a":-1},{"t":11510,"h":-4,"v":-3,"a":2.5},{"t":11530,"h":-9,"v":-2,"a":3},{"t":11540,"h":6,"v":1,"a":-2},
{"t":11560,"h":3,"v":3,"a":-1.5},{"t":11570,"h":-5,"v":-2,"a":1},{"t":11590,"h":-8,"v":-4,"a":2},{"t":11600,"h":4,"v":1,"a":-3.5},{"t":11620,"h":6,"v":2,"a":-2},{"t":11630,"h":-7,"v":-3,"a":1},{"t":11650,"h":-2,"v":-1,"a":3},{"t":11660,"h":5,"v":2,"a":-1.5},{"t":11680,"h":8,"v":3,"a":-2.5},{"t":11690,"h":-3,"v":-2,"a":1},
{"t":11710,"h":-5,"v":-1,"a":2},{"t":11720,"h":3,"v":4,"a":-3}
]},
"vconcat": [
{
"width": 617, "height": 117,
"layer": [
{"mark": {"type": "line", "color": "#0072BD", "strokeWidth": 1.05, "clip": true},
 "encoding": {
  "x": {"field": "t", "type": "quantitative", "scale": {"domain": [0, 11680], "nice": false, "zero": false}, "axis": {"orient": "bottom", "values": [0,2000,4000,6000,8000,10000], "format": "d", "labelFlush": false, "title": "Time (s)", "labelPadding": 17, "titlePadding": 13}},
  "y": {"field": "h", "type": "quantitative", "scale": {"domain": [-30, 30], "nice": false}, "axis": {"values": [-20,0,20], "title": "η (m)", "labelPadding": 14, "titlePadding": 8}}
 }},
{"mark": {"type": "line", "opacity": 0, "clip": true},
 "encoding": {
  "x": {"field": "t", "type": "quantitative", "axis": {"orient": "top", "values": [0,2000,4000,6000,8000,10000], "labels": false, "title": null}},
  "y": {"field": "h", "type": "quantitative", "axis": {"values": [-20,0,20], "title": "η (m)", "labelPadding": 14, "titlePadding": 8}}
 }}
],
"resolve": {"axis": {"x": "independent"}}
},
{
"width": 617, "height": 117,
"layer": [
{"mark": {"type": "line", "color": "#0072BD", "strokeWidth": 1.05, "clip": true},
 "encoding": {
  "x": {"field": "t", "type": "quantitative", "scale": {"domain": [0, 11680], "nice": false, "zero": false}, "axis": {"orient": "bottom", "values": [0,2000,4000,6000,8000,10000], "format": "d", "labelFlush": false, "title": "Time (s)", "labelPadding": 17, "titlePadding": 13}},
  "y": {"field": "v", "type": "quantitative", "scale": {"domain": [-30, 30], "nice": false}, "axis": {"values": [-20,0,20], "title": "v (m/s)", "labelPadding": 14, "titlePadding": 8}}
 }},
{"mark": {"type": "line", "opacity": 0, "clip": true},
 "encoding": {
  "x": {"field": "t", "type": "quantitative", "axis": {"orient": "top", "values": [0,2000,4000,6000,8000,10000], "labels": false, "title": null}},
  "y": {"field": "v", "type": "quantitative", "axis": {"values": [-20,0,20], "title": "v (m/s)", "labelPadding": 14, "titlePadding": 8}}
 }}
],
"resolve": {"axis": {"x": "independent"}}
},
{
"width": 617, "height": 117,
"layer": [
{"mark": {"type": "line", "color": "#0072BD", "strokeWidth": 1.05, "clip": true},
 "encoding": {
  "x": {"field": "t", "type": "quantitative", "scale": {"domain": [0, 11680], "nice": false, "zero": false}, "axis": {"orient": "bottom", "values": [0,2000,4000,6000,8000,10000], "format": "d", "labelFlush": false, "title": "Time (s)", "labelPadding": 17, "titlePadding": 13}},
  "y": {"field": "a", "type": "quantitative", "scale": {"domain": [-15, 15], "nice": false}, "axis": {"values": [-10,0,10], "title": "aₑ (m/s²)", "labelPadding": 14, "titlePadding": 8}}
 }},
{"mark": {"type": "line", "opacity": 0, "clip": true},
 "encoding": {
  "x": {"field": "t", "type": "quantitative", "axis": {"orient": "top", "values": [0,2000,4000,6000,8000,10000], "labels": false, "title": null}},
  "y": {"field": "a", "type": "quantitative", "axis": {"values": [-10,0,10], "title": "aₑ (m/s²)", "labelPadding": 14, "titlePadding": 8}}
 }}
],
"resolve": {"axis": {"x": "independent"}}
}
],
"config": {
 "font": "Liberation Sans",
 "view": {"stroke": null, "fill": "white"},
 "axis": {"domainColor": "#262626", "tickColor": "#262626", "labelColor": "#262626", "titleColor": "#262626", "labelFontSize": 17, "titleFontSize": 20, "titleFontWeight": "normal", "grid": false, "tickSize": -5, "domainWidth": 1, "tickWidth": 1, "zindex": 1, "labelFont": "Liberation Sans", "titleFont": "Liberation Sans"}
}
}
